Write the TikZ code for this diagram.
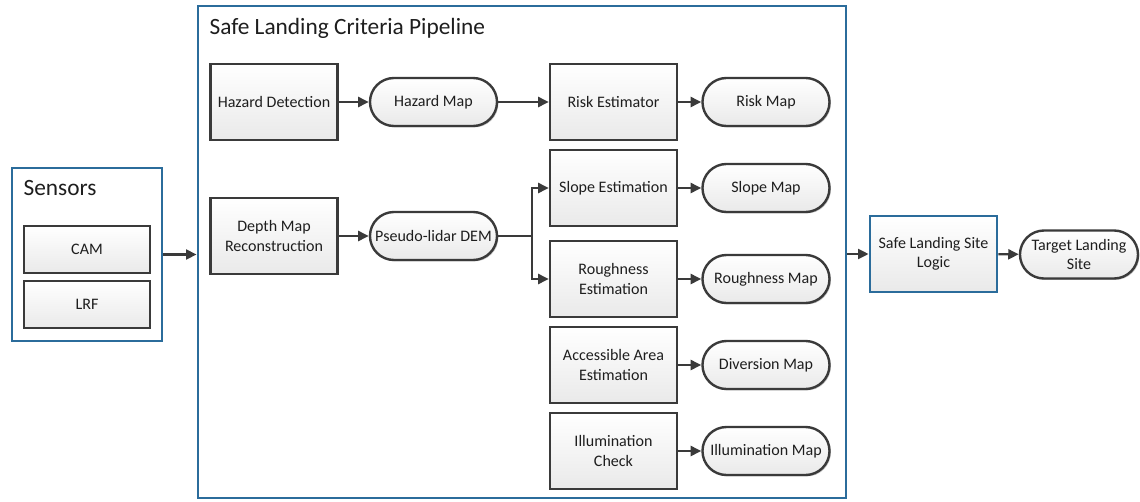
\documentclass[tikz,border=0pt]{standalone}
\usepackage{fontspec}
\setmainfont{Carlito}
\usetikzlibrary{arrows.meta,shadows,positioning}
\definecolor{edgegray}{HTML}{3A3A3A}
\definecolor{frameblue}{HTML}{2B6C9B}
\definecolor{txtgray}{HTML}{1E1E1E}
\tikzset{
  boxshadow/.style={drop shadow={shadow xshift=1pt, shadow yshift=-1pt, fill=black, opacity=0.22}},
  procbox/.style={draw=edgegray, line width=1.7pt, top color=white, bottom color=gray!17,
    minimum width=3.175cm, minimum height=1.9cm, align=center, text=txtgray,
    font=\fontsize{11.4}{13.6}\selectfont, boxshadow},
  mapbox/.style={procbox, rounded corners=0.6cm, minimum height=1.2cm},
  sensbox/.style={procbox, minimum width=3.15cm, minimum height=1.175cm},
  logicbox/.style={procbox, draw=frameblue, line width=1.9pt},
  frame/.style={draw=frameblue, line width=1.9pt, fill=white},
  title/.style={anchor=north west, text=txtgray, font=\fontsize{16.6}{19}\selectfont},
  flow/.style={draw=edgegray, line width=1.7pt, -{Triangle[length=7.5pt,width=7pt]}}
}
\begin{document}
\begin{tikzpicture}[x=0.025cm, y=-0.025cm]
    \useasboundingbox (0,0) rectangle (1140,501);

    % Frames
    \node[frame, minimum width=3.75cm, minimum height=4.325cm] (sensors) at (87,254.5) {};
    \node[frame, minimum width=16.2cm, minimum height=12.3cm] (pipe) at (522,252) {};
    \node[title] at (sensors.north west) [xshift=0.2cm, yshift=-0.22cm] {Sensors};
    \node[title] at (pipe.north west) [xshift=0.2cm, yshift=-0.22cm] {Safe Landing Criteria Pipeline};

    % Sensors
    \node[sensbox] (cam) at (87,249.5) {CAM};
    \node[sensbox] (lrf) at (87,304.5) {LRF};

    % First column
    \node[procbox] (hazdet) at (274,102) {Hazard Detection};
    \node[procbox] (depth) at (274,236) {Depth Map\\Reconstruction};

    % Second column
    \node[mapbox] (hazmap) at (433.5,102) {Hazard Map};
    \node[mapbox] (dem) at (433.5,236) {Pseudo-lidar DEM};

    % Estimators
    \node[procbox] (risk) at (613.5,102) {Risk Estimator};
    \node[procbox] (slope) at (613.5,188) {Slope Estimation};
    \node[procbox] (rough) at (613.5,279) {Roughness\\Estimation};
    \node[procbox] (access) at (613.5,365) {Accessible Area\\Estimation};
    \node[procbox] (illum) at (613.5,451) {Illumination\\Check};

    % Maps
    \node[mapbox] (riskmap) at (766,102) {Risk Map};
    \node[mapbox] (slopemap) at (766,188) {Slope Map};
    \node[mapbox] (roughmap) at (766,279) {Roughness Map};
    \node[mapbox] (divmap) at (766,365) {Diversion Map};
    \node[mapbox] (illummap) at (766,451) {Illumination Map};

    % Output
    \node[logicbox] (logic) at (933.5,254) {Safe Landing Site\\Logic};
    \node[mapbox, minimum width=2.95cm] (target) at (1079,254.5) {Target Landing\\Site};

    % Connectors
    \coordinate (split) at (532,236);
    \draw[flow] (sensors.east) -- (sensors.east -| pipe.west);
    \draw[flow] (hazdet) -- (hazmap);
    \draw[flow] (hazmap) -- (risk);
    \draw[flow] (risk) -- (riskmap);
    \draw[flow] (depth) -- (dem);
    \draw[draw=edgegray, line width=1.7pt] (dem.east) -- (split);
    \draw[flow] (split) |- (slope.west);
    \draw[flow] (split) |- (rough.west);
    \draw[flow] (slope) -- (slopemap);
    \draw[flow] (rough) -- (roughmap);
    \draw[flow] (access) -- (divmap);
    \draw[flow] (illum) -- (illummap);
    \draw[flow] (pipe.east |- logic.west) -- (logic.west);
    \draw[flow] (logic) -- (target);
\end{tikzpicture}
\end{document}
